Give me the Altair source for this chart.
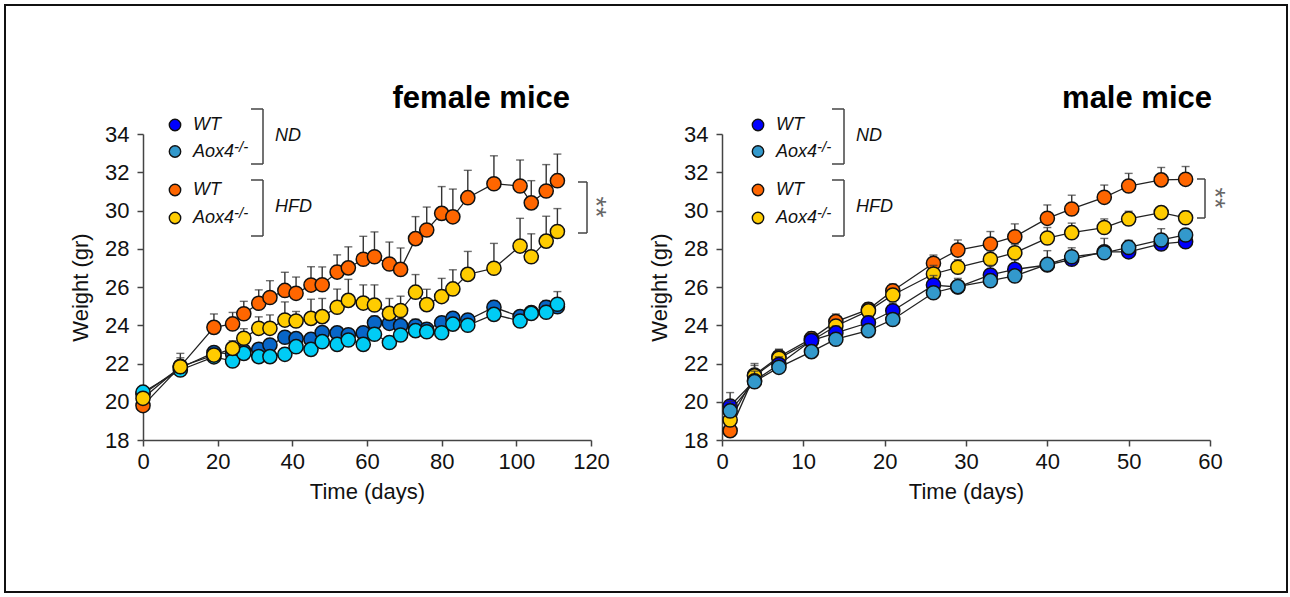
import altair as alt
import pandas as pd

FONT = "Liberation Sans"

# ---------------- data: female mice ----------------
f_days = [0, 10, 19, 24, 27, 31, 34, 38, 41, 45, 48, 52, 55, 59, 62, 66, 69, 73, 76, 80, 83, 87, 94, 101, 104, 108, 111]
f_wt_nd = [20.4, 21.78, 22.57, 22.5, 22.65, 22.74, 22.97, 23.37, 23.3, 23.26, 23.62, 23.6, 23.5, 23.6, 24.13, 24.1,
           23.98, 23.96, 23.79, 24.13, 24.36, 24.27, 24.94, 24.45, 24.66, 24.94, 24.97]
f_wt_nd_err = [0.25, 0.75, 0.3, 0.3, 0.3, 0.3, 0.3, 0.3, 0.3, 0.3, 0.3, 0.3, 0.3, 0.3, 0.35, 0.3, 0.3, 0.35, 0.3,
               0.3, 0.3, 0.3, 0.35, 0.3, 0.3, 0.35, 0.4]
f_ko_nd = [20.5, 21.66, 22.35, 22.13, 22.53, 22.36, 22.36, 22.48, 22.88, 22.74, 23.14, 23.0, 23.23, 23.0, 23.53, 23.1,
           23.49, 23.72, 23.66, 23.61, 24.06, 24.0, 24.57, 24.22, 24.62, 24.68, 25.1]
f_ko_nd_err = [0.2, 0.3, 0.2, 0.3, 0.3, 0.25, 0.3, 0.3, 0.3, 0.3, 0.3, 0.3, 0.3, 0.3, 0.3, 0.3, 0.3, 0.3, 0.3, 0.3,
               0.3, 0.3, 0.3, 0.3, 0.35, 0.35, 0.66]
f_wt_hfd = [19.8, 21.85, 23.89, 24.07, 24.6, 25.15, 25.45, 25.82, 25.67, 26.1, 26.12, 26.78, 27.0, 27.45, 27.58, 27.2,
            26.92, 28.53, 28.98, 29.85, 29.67, 30.67, 31.4, 31.28, 30.4, 31.02, 31.56]
f_wt_hfd_err = [0.3, 0.45, 0.7, 0.6, 0.65, 0.7, 0.88, 0.95, 0.85, 0.96, 0.93, 0.9, 1.1, 1.2, 1.3, 1.15, 1.12, 1.15,
                1.2, 1.4, 1.45, 1.43, 1.46, 1.36, 1.16, 1.38, 1.39]
f_ko_hfd = [20.18, 21.83, 22.44, 22.79, 23.32, 23.84, 23.84, 24.27, 24.22, 24.36, 24.45, 24.94, 25.3, 25.16, 25.06,
            24.62, 24.77, 25.73, 25.08, 25.5, 25.9, 26.66, 26.98, 28.14, 27.58, 28.4, 28.9]
f_ko_hfd_err = [0.2, 0.3, 0.3, 0.4, 0.5, 0.6, 0.7, 0.95, 0.5, 1.0, 0.95, 0.95, 1.1, 0.95, 1.05, 0.78, 0.75, 0.92,
                0.8, 0.95, 1.0, 1.2, 1.3, 1.45, 1.2, 1.3, 1.2]

# ---------------- data: male mice ----------------
m_days = [1, 4, 7, 11, 14, 18, 21, 26, 29, 33, 36, 40, 43, 47, 50, 54, 57]
m_wt_hfd = [18.49, 21.4, 22.35, 23.3, 24.19, 24.83, 25.8, 27.24, 27.93, 28.25, 28.63, 29.59, 30.08, 30.69, 31.28,
            31.6, 31.63]
m_wt_hfd_err = [0.3, 0.5, 0.4, 0.35, 0.4, 0.35, 0.35, 0.43, 0.53, 0.65, 0.67, 0.7, 0.72, 0.64, 0.66, 0.65, 0.67]
m_ko_hfd = [19.05, 21.35, 22.27, 23.19, 23.96, 24.75, 25.58, 26.68, 27.03, 27.45, 27.79, 28.56, 28.84, 29.11, 29.56,
            29.89, 29.62]
m_ko_hfd_err = [0.3, 0.65, 0.45, 0.4, 0.3, 0.3, 0.3, 0.45, 0.4, 0.45, 0.45, 0.55, 0.5, 0.45, 0.4, 0.3, 0.35]
m_wt_nd = [19.78, 21.1, 21.95, 23.2, 23.6, 24.13, 24.76, 26.1, 26.0, 26.63, 26.92, 27.15, 27.45, 27.84, 27.84,
           28.25, 28.37]
m_wt_nd_err = [0.7, 0.5, 0.4, 0.35, 0.35, 0.35, 0.4, 0.5, 0.45, 0.5, 0.5, 0.75, 0.6, 0.7, 0.6, 0.8, 0.6]
m_ko_nd = [19.52, 21.05, 21.8, 22.62, 23.27, 23.72, 24.3, 25.7, 26.02, 26.33, 26.58, 27.18, 27.58, 27.79, 28.07,
           28.46, 28.72]
m_ko_nd_err = [0.5, 0.3, 0.3, 0.3, 0.3, 0.3, 0.3, 0.3, 0.3, 0.3, 0.3, 0.3, 0.3, 0.3, 0.35, 0.3, 0.3]

y_ticks = [18, 20, 22, 24, 26, 28, 30, 32, 34]
f_x_ticks = [0, 20, 40, 60, 80, 100, 120]
m_x_ticks = [0, 10, 20, 30, 40, 50, 60]

C_ORANGE = "#ff6600"
C_YELLOW = "#ffcc00"
ONE = pd.DataFrame({"k": [0]})


def X(field, ticks):
    return alt.X(f"{field}:Q", scale=alt.Scale(domain=[ticks[0], ticks[-1]], nice=False, zero=False),
                 axis=alt.Axis(values=ticks, title="Time (days)", labelFlush=False))


def Y(field):
    return alt.Y(f"{field}:Q", scale=alt.Scale(domain=[18, 34], nice=False, zero=False),
                 axis=alt.Axis(values=y_ticks, title="Weight (gr)", labelFlush=False))


def series_layers(days, vals, errs, color, ticks):
    df = pd.DataFrame({"day": days, "w": vals, "top": [v + e for v, e in zip(vals, errs)]})
    base = alt.Chart(df)
    rule = base.mark_rule(color="#333333", strokeWidth=1.4).encode(x=X("day", ticks), y=Y("w"), y2="top:Q")
    cap = base.mark_tick(color="#333333", orient="horizontal", size=8, thickness=1.4).encode(
        x=X("day", ticks), y=Y("top"))
    line = base.mark_line(color="#222222", strokeWidth=1.3).encode(x=X("day", ticks), y=Y("w"))
    pts = base.mark_circle(size=200, color=color, opacity=1, stroke="#111111", strokeWidth=1.5).encode(
        x=X("day", ticks), y=Y("w"))
    return [rule, cap, line, pts]


def vrule(x, y1, y2):
    return alt.Chart(ONE).mark_rule(color="#444444", strokeWidth=1.5).encode(
        x=alt.value(x), y=alt.value(y1), y2=alt.value(y2))


def hrule(x1, x2, y):
    return alt.Chart(ONE).mark_rule(color="#444444", strokeWidth=1.5).encode(
        x=alt.value(x1), x2=alt.value(x2), y=alt.value(y))


def text(s, x, y, size=18, style="italic", weight="normal", align="left", baseline="middle", color="#111111",
         angle=0):
    return alt.Chart(ONE).mark_text(font=FONT, fontSize=size, fontStyle=style, fontWeight=weight, align=align,
                                    baseline=baseline, color=color, angle=angle).encode(
        x=alt.value(x), y=alt.value(y), text=alt.value(s))


def dot(x, y, color):
    return alt.Chart(ONE).mark_circle(size=130, color=color, opacity=1, stroke="#111111", strokeWidth=1.4).encode(
        x=alt.value(x), y=alt.value(y))


def legend(x0, c1, c2, bx):
    rows = [(-9, "WT", c1), (17.5, "Aox4", c2), (56, "WT", C_ORANGE), (84, "Aox4", C_YELLOW)]
    out = []
    for y, lab, c in rows:
        out.append(dot(x0, y, c))
        out.append(text(lab, x0 + 18, y))
        if lab == "Aox4":
            out.append(text("-/-", x0 + 18 + 41, y - 5, size=15))
    out += [vrule(bx, -25, 30), hrule(bx - 12, bx, -25), hrule(bx - 12, bx, 30)]
    out += [vrule(bx, 46, 102), hrule(bx - 12, bx, 46), hrule(bx - 12, bx, 102)]
    out.append(text("ND", bx + 12, 2))
    out.append(text("HFD", bx + 12, 73))
    return out


# ---------------- female panel ----------------
f_layers = []
f_layers += series_layers(f_days, f_wt_nd, f_wt_nd_err, "#0866c8", f_x_ticks)
f_layers += series_layers(f_days, f_ko_nd, f_ko_nd_err, "#00ccf5", f_x_ticks)
f_layers += series_layers(f_days, f_wt_hfd, f_wt_hfd_err, C_ORANGE, f_x_ticks)
f_layers += series_layers(f_days, f_ko_hfd, f_ko_hfd_err, C_YELLOW, f_x_ticks)
f_layers += legend(32, "#0000ff", "#3399cc", 120)
f_layers += [vrule(444, 48, 99), hrule(435, 444, 48), hrule(435, 444, 99)]
f_layers.append(text("**", 452, 73, size=27, style="normal", color="#666666", align="center", angle=90))
f_layers.append(text("female mice", 427, -26, size=31, style="normal", weight="bold", align="right",
                     baseline="alphabetic", color="#000000"))
# outer frame
f_layers.append(alt.Chart(ONE).mark_rect(fill="transparent", stroke="#111111", strokeWidth=2).encode(
    x=alt.value(-138), x2=alt.value(1144), y=alt.value(-129), y2=alt.value(458)))

female = alt.layer(*f_layers).properties(width=448, height=306)

# ---------------- male panel ----------------
m_layers = []
m_layers += series_layers(m_days, m_wt_hfd, m_wt_hfd_err, C_ORANGE, m_x_ticks)
m_layers += series_layers(m_days, m_ko_hfd, m_ko_hfd_err, C_YELLOW, m_x_ticks)
m_layers += series_layers(m_days, m_wt_nd, m_wt_nd_err, "#0000ff", m_x_ticks)
m_layers += series_layers(m_days, m_ko_nd, m_ko_nd_err, "#3399cc", m_x_ticks)
m_layers += legend(36, "#0000ff", "#3399cc", 122)
m_layers += [vrule(483, 45, 84), hrule(475, 483, 45), hrule(475, 483, 84)]
m_layers.append(text("**", 492, 64, size=27, style="normal", color="#666666", align="center", angle=90))
m_layers.append(text("male mice", 490, -26, size=31, style="normal", weight="bold", align="right",
                     baseline="alphabetic", color="#000000"))

male = alt.layer(*m_layers).properties(width=488, height=306)

chart = alt.hconcat(female, male, spacing=131, bounds="flush").properties(
    padding={"left": 4, "top": 4, "right": 1, "bottom": 1},
    background="white",
).configure_view(stroke=None).configure_axis(
    grid=False,
    labelFont=FONT, titleFont=FONT,
    labelFontSize=22, titleFontSize=22, titleFontWeight="normal",
    labelColor="#111111", titleColor="#111111",
    domainColor="#444444", tickColor="#444444", domainWidth=1.5, tickWidth=1.5, tickSize=6,
).configure_axisX(labelPadding=5, titlePadding=9).configure_axisY(labelPadding=8, titlePadding=12)

chart.save("out.html", embed_options={"renderer": "svg", "actions": False})
